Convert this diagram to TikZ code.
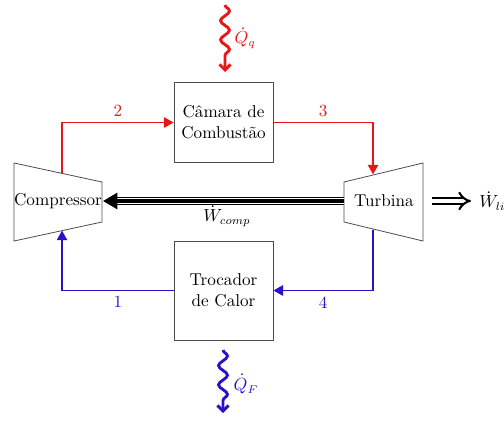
\documentclass[tikz,border=0pt]{standalone}
\usetikzlibrary{arrows.meta,decorations.pathmorphing,calc}
\definecolor{hotred}{RGB}{232,22,22}
\definecolor{coldblue}{RGB}{45,15,200}
\begin{document}
\begin{tikzpicture}[x=0.625pt,y=-0.625pt,
  font=\fontsize{10.7}{13}\selectfont,
  box/.style={draw=black!70,line width=0.5pt,minimum width=61.9pt,align=center},
  machine/.style={draw=black!70,line width=0.5pt},
  hotline/.style={draw=hotred,line width=0.9pt},
  coldline/.style={draw=coldblue,line width=0.9pt},
  tri/.style={-{Triangle[length=6pt,width=6.5pt]}},
  heat/.style={line width=1.8pt,decorate,decoration={snake,amplitude=2.8pt,segment length=12pt,post length=5pt},-{Straight Barb[length=3.5pt,width=7pt]}},
  numlabel/.style={}]
\useasboundingbox (0,0) rectangle (504,420);

% boxes
\node[box,minimum height=50pt] (cc) at (223.5,122.5) {Câmara de\\Combustão};
\node[box,minimum height=61.9pt] (tc) at (223.5,290.5) {Trocador\\de Calor};

% compressor
\coordinate (c1) at (14,163);
\coordinate (c2) at (102,182);
\coordinate (c3) at (102,222);
\coordinate (c4) at (14,241);
\draw[machine] (c1) -- (c2) -- (c3) -- (c4) -- cycle;
\node[inner sep=0pt] (comp) at (58,201) {Compressor};
\coordinate (cin) at (62,230.6);
\coordinate (cout) at (62,173.4);
\coordinate (cshaft) at (103,201);

% turbine
\coordinate (t1) at (344,182);
\coordinate (t2) at (423,163);
\coordinate (t3) at (423,241);
\coordinate (t4) at (344,222);
\draw[machine] (t1) -- (t2) -- (t3) -- (t4) -- cycle;
\node (turb) at (384,201) {Turbina};
\coordinate (tin) at (373,174.4);
\coordinate (tout) at (373,229.6);
\coordinate (tshaft) at (344,201);

% flow lines
\draw[hotline,tri] (cout) |- (cc.west) node[pos=0.75,above,text=hotred,numlabel] {2};
\draw[hotline,tri] (cc.east) -| (tin) node[pos=0.25,above,text=hotred,numlabel] {3};
\draw[coldline,tri] (tout) |- (tc.east) node[pos=0.75,below,text=coldblue,numlabel] {4};
\draw[coldline,tri] (tc.west) -| (cin) node[pos=0.25,below,text=coldblue,numlabel] {1};

% shaft
\draw[line width=4.6pt,black] (tshaft) -- ($(cshaft)+(10,0)$);
\draw[line width=3.4pt,white] ($(tshaft)+(-0.5,0)$) -- ($(cshaft)+(10,0)$);
\draw[line width=1.9pt,black,-{Triangle[length=9pt,width=10pt]}] (tshaft) -- (cshaft);
\node (wcomp) at (227,216) {$\dot W_{comp}$};

% output work
\coordinate (wa) at (432,201);
\coordinate (wb) at (471,201);
\draw[line width=1.3pt,double distance=2.6pt,-{Implies}] (wa) -- (wb);
\node[anchor=west,inner sep=0pt] (wliq) at (479,202) {$\dot W_{liq}$};

% heat
\coordinate (qq1) at (225,5);
\coordinate (qq2) at (225,72);
\draw[heat,hotred] (qq1) -- (qq2);
\node[text=hotred,anchor=west] (qq) at (229,38) {$\dot Q_q$};
\coordinate (qf1) at (223,350);
\coordinate (qf2) at (223,413);
\draw[heat,coldblue] (qf1) -- (qf2);
\node[text=coldblue,anchor=west] (qf) at (228,384) {$\dot Q_F$};
\end{tikzpicture}
\end{document}
